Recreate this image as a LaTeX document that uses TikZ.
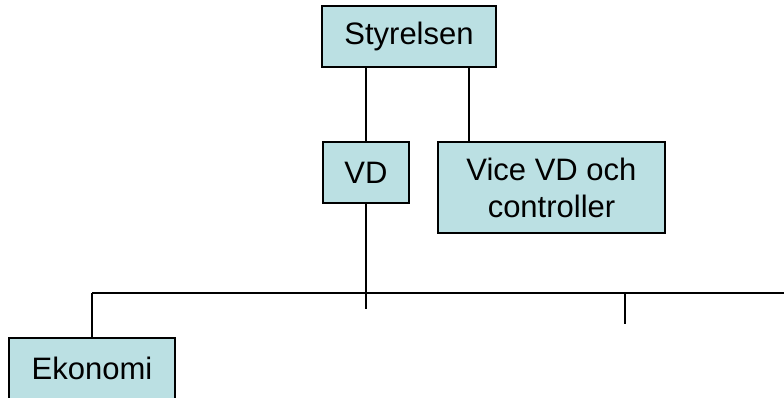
\documentclass[tikz,border=0pt]{standalone}
\usepackage{fontspec}
\setmainfont{Liberation Sans}
\definecolor{boxfill}{RGB}{187,224,227}

\begin{document}
\begin{tikzpicture}
[
	x=1pt,y=-1pt,
	orgbox/.style={draw=black,fill=boxfill,line width=1.5pt,inner sep=0pt,align=center,
		font=\fontsize{31}{37}\selectfont},
	link/.style={black,line width=1.5pt}
]

	\useasboundingbox (0,0) rectangle (784,397);

	% boxes
	\node[orgbox,minimum width=174,minimum height=61] at (409,36.5) (styrelsen) {Styrelsen};
	\node[orgbox,minimum width=86,minimum height=61] at (366,172.5) (vd) {VD};
	\node[orgbox,minimum width=227,minimum height=91] at (551.5,187.5) (vice) {Vice VD och\\controller};
	\node[orgbox,minimum width=166,minimum height=61] at (92,368.5) (ekonomi) {Ekonomi};

	% top links
	\draw[link] (styrelsen.south -| vd.north) -- (vd.north);
	\draw[link] (styrelsen.south) ++(60,0) coordinate (sv) -- (sv |- vice.north);

	% bus
	\coordinate (busL) at (ekonomi.north |- 0,293);
	\coordinate (busR) at (784,293);
	\draw[link] (busL) -- (busR);
	\draw[link] (busL) -- (ekonomi.north);

	% ticks
	\coordinate (tick1) at (vd.south |- 0,309);
	\draw[link] (vd.south) -- (tick1);
	\coordinate (tick2top) at (625,293);
	\coordinate (tick2) at (625,324);
	\draw[link] (tick2top) -- (tick2);

\end{tikzpicture}
\end{document}
